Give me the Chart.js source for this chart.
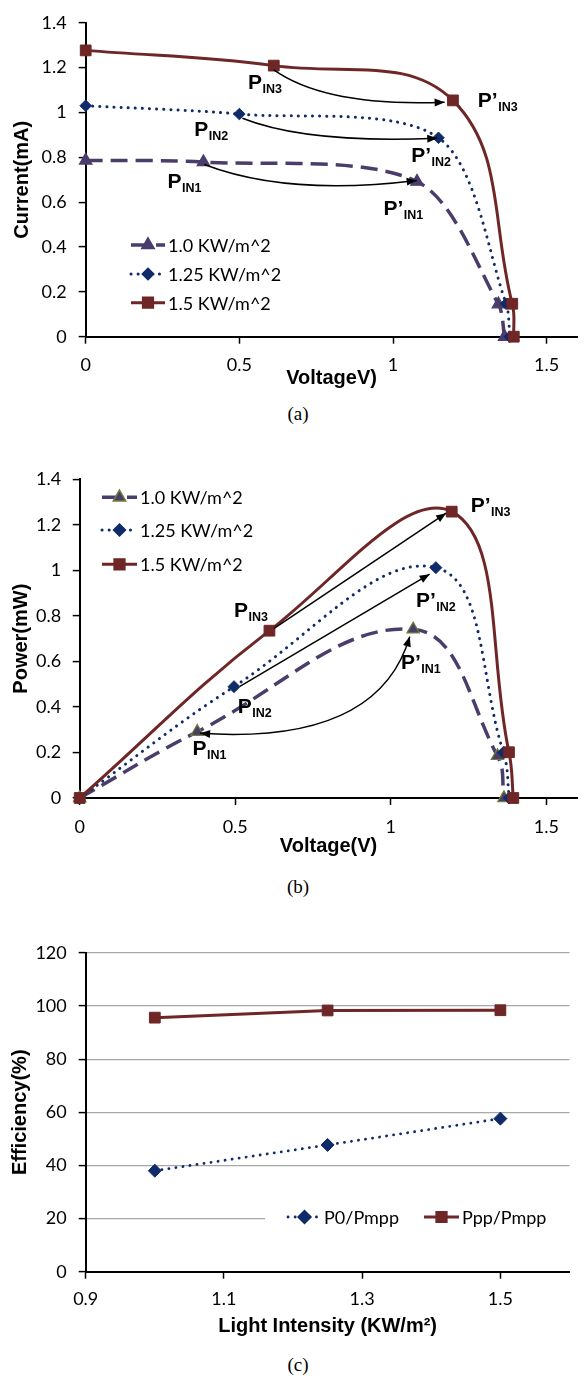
<!DOCTYPE html>
<html>
<head>
<meta charset="utf-8">
<script src="https://cdn.jsdelivr.net/npm/chart.js@4/dist/chart.umd.min.js"></script>
<style>
  html, body { margin: 0; padding: 0; background: #fff; }
  body { width: 586px; height: 1379px; position: relative; overflow: hidden; }
  canvas { position: absolute; left: 0; }
  .cap { position: absolute; left: 298px; transform: translate(-50%, -50%);
         font: 19px "Liberation Serif", "Times New Roman", serif; color: #000; }
</style>
</head>
<body>
<canvas id="chartA" width="586" height="395" style="top:0px"></canvas>
<div class="cap" style="top:414px">(a)</div>
<canvas id="chartB" width="586" height="422" style="top:440px"></canvas>
<div class="cap" style="top:887px">(b)</div>
<canvas id="chartC" width="586" height="415" style="top:930px"></canvas>
<div class="cap" style="top:1365px">(c)</div>

<script>
// ---------- data ----------
const seriesNames = ['1.0 KW/m^2', '1.25 KW/m^2', '1.5 KW/m^2'];

// (a) I-V curves: voltage (V) and current (mA)
const ivVoltage10  = [0, 0.383, 1.078, 1.343, 1.363];
const ivCurrent10  = [0.786, 0.779, 0.692, 0.145, 0];
const ivVoltage125 = [0, 0.500, 1.148, 1.368, 1.380];
const ivCurrent125 = [1.030, 0.993, 0.887, 0.147, 0];
const ivVoltage15  = [0, 0.612, 1.195, 1.388, 1.393];
const ivCurrent15  = [1.277, 1.209, 1.054, 0.147, 0];

// (b) P-V curves: voltage (V) and power (mW)
const pvVoltage10  = [0, 0.378, 1.072, 1.343, 1.364];
const pvPower10    = [0, 0.291, 0.741, 0.185, 0];
const pvVoltage125 = [0, 0.496, 1.145, 1.362, 1.381];
const pvPower125   = [0, 0.489, 1.012, 0.200, 0];
const pvVoltage15  = [0, 0.610, 1.196, 1.380, 1.394];
const pvPower15    = [0, 0.735, 1.258, 0.201, 0];

// (c) efficiency vs light intensity
const effNames     = ['P0/Pmpp', 'Ppp/Pmpp'];
const intensity    = [1.0, 1.25, 1.5];
const effP0        = [38.0, 47.7, 57.6];
const effPpp       = [95.6, 98.3, 98.4];

// tick labels
const voltageTicks    = [0, 0.5, 1, 1.5];
const currentTicks    = [0, 0.2, 0.4, 0.6, 0.8, 1, 1.2, 1.4];
const powerTicks      = [0, 0.2, 0.4, 0.6, 0.8, 1, 1.2, 1.4];
const intensityTicks  = [0.9, 1.1, 1.3, 1.5];
const efficiencyTicks = [0, 20, 40, 60, 80, 100, 120];

// operating-point annotations (data space)
const ivLabels = [
  { text: 'P',  sub: 'IN3', at: [0.528, 1.106] },
  { text: 'P’', sub: 'IN3', at: [1.276, 1.024] },
  { text: 'P',  sub: 'IN2', at: [0.353, 0.894] },
  { text: 'P’', sub: 'IN2', at: [1.059, 0.779] },
  { text: 'P',  sub: 'IN1', at: [0.266, 0.664] },
  { text: 'P’', sub: 'IN1', at: [0.969, 0.541] }
];
const ivArrows = [
  { from: [0.612, 1.190], ctrl: [0.785, 1.024], to: [1.168, 1.046], heads: 'end' },
  { from: [0.510, 0.974], ctrl: [0.720, 0.860], to: [1.144, 0.885], heads: 'end' },
  { from: [0.386, 0.768], ctrl: [0.657, 0.626], to: [1.077, 0.697], heads: 'end' }
];
const pvLabels = [
  { text: 'P’', sub: 'IN3', at: [1.257, 1.258] },
  { text: 'P',  sub: 'IN3', at: [0.496, 0.797] },
  { text: 'P’', sub: 'IN2', at: [1.081, 0.841] },
  { text: 'P’', sub: 'IN1', at: [1.033, 0.565] },
  { text: 'P',  sub: 'IN2', at: [0.508, 0.375] },
  { text: 'P',  sub: 'IN1', at: [0.363, 0.189] }
];
const pvArrows = [
  { from: [0.625, 0.745], to: [1.178, 1.251], heads: 'end' },
  { from: [0.515, 0.490], to: [1.125, 0.983], heads: 'end' },
  { from: [0.387, 0.284], ctrl: [0.959, 0.233], to: [1.061, 0.709], heads: 'both' }
];

// ---------- styling ----------
const RED = '#6E2626', NAVY = '#0F2B69', PURPLE = '#4A3D6C', OLIVE = '#707E3A';
const TICK_FONT  = { family: 'Lato, "Open Sans", sans-serif', size: 18 };
const TITLE_FONT = { family: '"Liberation Sans", Arial, sans-serif', size: 20, weight: 'bold' };
const LEGEND_FONT = '18px Lato, "Open Sans", sans-serif';

const pts = (xs, ys) => xs.map((x, i) => ({ x, y: ys[i] }));

function styleDashed(edge, tension) {
  return { borderColor: PURPLE, borderWidth: 3.5, borderDash: [17, 8], borderCapStyle: 'butt', tension,
           pointStyle: 'triangle', pointRadius: 7.2, pointBackgroundColor: PURPLE,
           pointBorderColor: edge, pointBorderWidth: 1.2, order: 2 };
}
function styleDotted(r, tension) {
  return { borderColor: NAVY, borderWidth: 3, borderDash: [0.1, 7], borderCapStyle: 'round', tension,
           pointStyle: 'rectRot', pointRadius: r, pointBackgroundColor: NAVY,
           pointBorderColor: NAVY, pointBorderWidth: 1, order: 1 };
}
function styleSolid(tension) {
  return { borderColor: RED, borderWidth: 3, borderDash: [], tension,
           pointStyle: 'rect', pointRadius: 7.6, pointBackgroundColor: RED,
           pointBorderColor: RED, pointBorderWidth: 1, order: 0 };
}

function makeScales(c) {
  return {
    x: {
      type: 'linear', min: c.xMin, max: c.xMax,
      afterBuildTicks: s => { s.ticks = c.xTicks.map(v => ({ value: v })); },
      afterFit: s => { s.height = c.xHeight; },
      border: { display: true, color: '#000', width: 2 },
      grid: { display: true, drawOnChartArea: false, drawTicks: true, tickLength: 7,
              tickColor: '#000', tickWidth: 1.5 },
      ticks: { color: '#000', font: TICK_FONT, padding: c.xTickPad, maxRotation: 0, autoSkip: false,
               callback: v => String(v) },
      title: { display: true, text: c.xTitle, color: '#000', font: TITLE_FONT,
               padding: { top: 0, bottom: c.xTitlePad } }
    },
    y: {
      type: 'linear', min: c.yMin, max: c.yMax,
      afterBuildTicks: s => { s.ticks = c.yTicks.map(v => ({ value: v })); },
      afterFit: s => { s.width = c.yWidth; },
      border: { display: true, color: '#000', width: 2 },
      grid: { display: true, drawOnChartArea: !!c.yGrid, color: c.yGrid || 'rgba(0,0,0,0)',
              lineWidth: 1.2, drawTicks: true, tickLength: 7, tickColor: '#000', tickWidth: 1.5 },
      ticks: { color: '#000', font: TICK_FONT, padding: c.yTickPad, autoSkip: false,
               callback: v => String(v) },
      title: { display: true, text: c.yTitle, color: '#000', font: TITLE_FONT,
               padding: { top: c.yTitlePad, bottom: 0 } }
    }
  };
}

// ---------- overlay: arrows, point labels, in-plot legend ----------
function arrowHead(ctx, tip, from, len, half) {
  const a = Math.atan2(tip[1] - from[1], tip[0] - from[0]);
  ctx.beginPath();
  ctx.moveTo(tip[0], tip[1]);
  ctx.lineTo(tip[0] - len * Math.cos(a) + half * Math.sin(a), tip[1] - len * Math.sin(a) - half * Math.cos(a));
  ctx.lineTo(tip[0] - len * Math.cos(a) - half * Math.sin(a), tip[1] - len * Math.sin(a) + half * Math.cos(a));
  ctx.closePath();
  ctx.fill();
}

const overlay = {
  id: 'overlay',
  afterDatasetsDraw(chart, args, opts) {
    const ctx = chart.ctx;
    const xs = chart.scales.x, ys = chart.scales.y;
    const P = p => [xs.getPixelForValue(p[0]), ys.getPixelForValue(p[1])];
    ctx.save();

    // arrows
    ctx.strokeStyle = '#000';
    ctx.fillStyle = '#000';
    ctx.lineWidth = 1.5;
    ctx.setLineDash([]);
    (opts.arrows || []).forEach(a => {
      const f = P(a.from), t = P(a.to);
      const c = a.ctrl ? P(a.ctrl) : [(f[0] + t[0]) / 2, (f[1] + t[1]) / 2];
      ctx.beginPath();
      ctx.moveTo(f[0], f[1]);
      ctx.quadraticCurveTo(c[0], c[1], t[0], t[1]);
      ctx.stroke();
      arrowHead(ctx, t, c, 10, 4);
      if (a.heads === 'both') arrowHead(ctx, f, c, 10, 4);
    });

    // operating point labels
    ctx.fillStyle = '#000';
    ctx.textBaseline = 'alphabetic';
    ctx.textAlign = 'left';
    (opts.labels || []).forEach(l => {
      const p = P(l.at);
      ctx.font = 'bold 21px "Liberation Sans", Arial, sans-serif';
      ctx.fillText(l.text, p[0], p[1]);
      const w = ctx.measureText(l.text).width;
      ctx.font = 'bold 12.5px "Liberation Sans", Arial, sans-serif';
      ctx.fillText(l.sub, p[0] + w + 0.5, p[1] + 4);
    });

    // legend drawn inside the plot
    const lg = opts.legend;
    if (lg) {
      if (lg.box) {
        ctx.fillStyle = '#fff';
        ctx.fillRect(lg.box[0], lg.box[1], lg.box[2], lg.box[3]);
      }
      chart.data.datasets.forEach((ds, i) => {
        const it = lg.items[i];
        ctx.save();
        ctx.strokeStyle = ds.borderColor;
        ctx.lineWidth = ds.borderWidth;
        ctx.setLineDash(ds.borderDash || []);
        ctx.lineCap = ds.borderCapStyle || 'butt';
        ctx.beginPath();
        ctx.moveTo(it.x0, it.y);
        ctx.lineTo(it.x1, it.y);
        ctx.stroke();
        ctx.restore();
        ctx.save();
        ctx.fillStyle = ds.pointBackgroundColor;
        ctx.strokeStyle = ds.pointBorderColor;
        Chart.helpers.drawPoint(ctx, { pointStyle: ds.pointStyle, radius: ds.pointRadius,
          borderWidth: ds.pointBorderWidth, rotation: 0 }, (it.x0 + it.x1) / 2, it.y);
        ctx.restore();
        ctx.fillStyle = '#000';
        ctx.font = LEGEND_FONT;
        ctx.textBaseline = 'middle';
        ctx.fillText(ds.label, it.tx, it.y + 1);
      });
    }
    ctx.restore();
  }
};

function baseOptions(scales, padding, overlayOpts) {
  return {
    responsive: false, animation: false, devicePixelRatio: 1,
    layout: { padding },
    elements: { line: { fill: false } },
    plugins: { legend: { display: false }, tooltip: { enabled: false }, overlay: overlayOpts },
    scales
  };
}

// ---------- (a) current vs voltage ----------
new Chart(document.getElementById('chartA'), {
  type: 'line',
  data: {
    datasets: [
      Object.assign({ label: seriesNames[0], data: pts(ivVoltage10, ivCurrent10), clip: false }, styleDashed(PURPLE, 0.3)),
      Object.assign({ label: seriesNames[1], data: pts(ivVoltage125, ivCurrent125), clip: false }, styleDotted(5.8, 0.3)),
      Object.assign({ label: seriesNames[2], data: pts(ivVoltage15, ivCurrent15), clip: false }, styleSolid(0.4))
    ]
  },
  options: baseOptions(
    makeScales({ xMin: 0, xMax: 1.6, xTicks: voltageTicks, yMin: 0, yMax: 1.4, yTicks: currentTicks,
                 xTitle: 'VoltageV)', yTitle: 'Current(mA)', yWidth: 85.7, xHeight: 58.3,
                 xTickPad: 10.5, yTickPad: 12, xTitlePad: 5, yTitlePad: 10.5 }),
    { top: 13.3, right: 2, left: 0, bottom: 0 },
    { arrows: ivArrows, labels: ivLabels,
      legend: { items: [
        { x0: 131, x1: 165, y: 245, tx: 168 },
        { x0: 131, x1: 165, y: 274, tx: 168 },
        { x0: 131, x1: 165, y: 302.7, tx: 168 } ] } }),
  plugins: [overlay]
});

// ---------- (b) power vs voltage ----------
new Chart(document.getElementById('chartB'), {
  type: 'line',
  data: {
    datasets: [
      Object.assign({ label: seriesNames[0], data: pts(pvVoltage10, pvPower10), clip: false }, styleDashed(OLIVE, 0.4)),
      Object.assign({ label: seriesNames[1], data: pts(pvVoltage125, pvPower125), clip: false }, styleDotted(6, 0.4)),
      Object.assign({ label: seriesNames[2], data: pts(pvVoltage15, pvPower15), clip: false }, styleSolid(0.4))
    ]
  },
  options: baseOptions(
    makeScales({ xMin: 0, xMax: 1.6, xTicks: voltageTicks, yMin: 0, yMax: 1.4, yTicks: powerTicks,
                 xTitle: 'Voltage(V)', yTitle: 'Power(mW)', yWidth: 79.7, xHeight: 64,
                 xTickPad: 11, yTickPad: 11.5, xTitlePad: 4, yTitlePad: 9.6 }),
    { top: 39.3, right: 5.5, left: 0, bottom: 0 },
    { arrows: pvArrows, labels: pvLabels,
      legend: { items: [
        { x0: 102, x1: 137, y: 57.3, tx: 140 },
        { x0: 102, x1: 137, y: 90, tx: 140 },
        { x0: 102, x1: 137, y: 124.3, tx: 140 } ] } }),
  plugins: [overlay]
});

// ---------- (c) efficiency vs light intensity ----------
new Chart(document.getElementById('chartC'), {
  type: 'line',
  data: {
    datasets: [
      Object.assign({ label: effNames[0], data: pts(intensity, effP0), clip: false }, styleDotted(6.5, 0), { borderWidth: 2.8 }),
      Object.assign({ label: effNames[1], data: pts(intensity, effPpp), clip: false }, styleSolid(0))
    ]
  },
  options: baseOptions(
    makeScales({ xMin: 0.9, xMax: 1.6, xTicks: intensityTicks, yMin: 0, yMax: 120, yTicks: efficiencyTicks,
                 xTitle: 'Light Intensity (KW/m²)', yTitle: 'Efficiency(%)', yWidth: 85.7, xHeight: 73.3,
                 xTickPad: 9.5, yTickPad: 12, xTitlePad: 7, yTitlePad: 8, yGrid: '#A8A8A8' }),
    { top: 17.3, right: 16.5, left: 0, bottom: 0 },
    { legend: { box: [265, 269, 305, 36], items: [
        { x0: 288, x1: 321, y: 287, tx: 324 },
        { x0: 424, x1: 459, y: 287, tx: 462 } ] } }),
  plugins: [overlay]
});
</script>
</body>
</html>
